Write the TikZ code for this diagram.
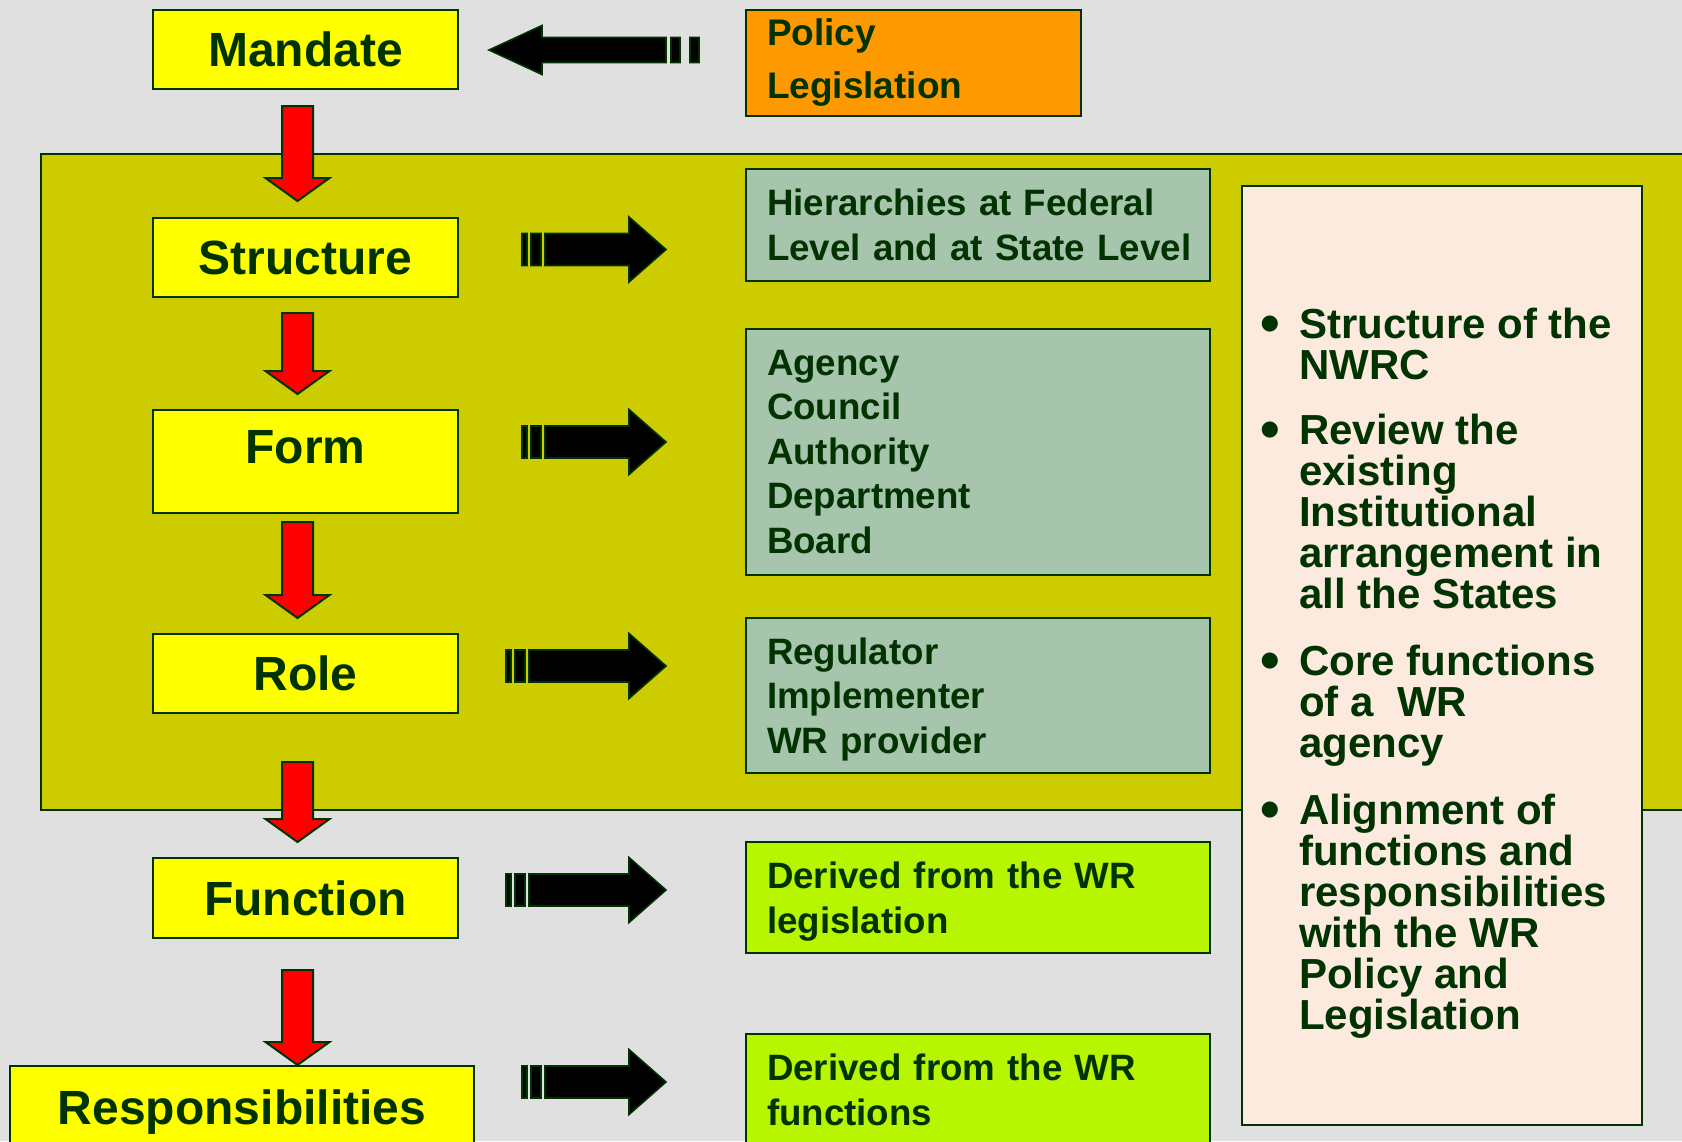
\documentclass[tikz,border=0pt]{standalone}
\usepackage{fontspec}
\setmainfont{Liberation Sans}
\usetikzlibrary{calc}
\definecolor{cBg}{HTML}{E0E0E0}
\definecolor{cOlive}{HTML}{CCCC00}
\definecolor{cYel}{HTML}{FFFF00}
\definecolor{cOrange}{HTML}{FF9900}
\definecolor{cSage}{HTML}{A7C4AD}
\definecolor{cLime}{HTML}{B8F500}
\definecolor{cPink}{HTML}{FCEADF}
\definecolor{cDk}{HTML}{003300}
\definecolor{cRed}{HTML}{FF0000}
\tikzset{
  ol/.style={draw=cDk, line width=2pt},
  leftbox/.style={ol, fill=cYel, minimum width=305pt, inner sep=0pt, outer sep=0pt,
    text=cDk, font=\bfseries\fontsize{48}{52}\selectfont, text height=34.5pt, text depth=0pt},
  lbltext/.style={inner sep=0pt, text=cDk, font=\bfseries\fontsize{48}{52}\selectfont, text height=34.5pt, text depth=0pt},
  rightbox/.style={ol, inner xsep=21pt, inner ysep=0pt, outer sep=0pt, text width=422pt, align=left,
    text=cDk, font=\bfseries\fontsize{36.7}{44.5}\selectfont},
  redarr/.style={draw=cDk, line width=2pt, fill=cRed},
  blkarr/.style={draw=cDk, line width=1.6pt, fill=black}
}
\newcommand\myDownArrow[2]{%
  \filldraw[redarr] let \p1=(#1), \p2=(#2) in
  (\x1-15.5pt,\y1) -- (\x1+15.5pt,\y1) -- (\x1+15.5pt,\y2+23pt) -- (\x1+32pt,\y2+23pt)
  -- (\x1,\y2) -- (\x1-32pt,\y2+23pt) -- (\x1-15.5pt,\y2+23pt) -- cycle;}
\newcommand\myRightArrow[2]{%
  \filldraw[blkarr] let \p1=(#1), \p2=(#2) in
  (\x1,\y1+16pt) rectangle (\x1+5pt,\y1-16pt)
  (\x1+9pt,\y1+16pt) rectangle (\x1+19pt,\y1-16pt)
  (\x1+23pt,\y1+16pt) -- (\x2-37pt,\y1+16pt) -- (\x2-37pt,\y1+32.5pt) -- (\x2,\y2)
  -- (\x2-37pt,\y1-32.5pt) -- (\x2-37pt,\y1-16pt) -- (\x1+23pt,\y1-16pt) -- cycle;}
\newcommand\myLeftArrow[2]{%
  \filldraw[blkarr] let \p1=(#1), \p2=(#2) in
  (\x1,\y1+12.5pt) rectangle (\x1-9pt,\y1-12.5pt)
  (\x1-19pt,\y1+12.5pt) rectangle (\x1-28pt,\y1-12.5pt)
  (\x1-33pt,\y1+12.5pt) -- (\x2+53pt,\y1+12.5pt) -- (\x2+53pt,\y1+24.5pt) -- (\x2,\y2)
  -- (\x2+53pt,\y1-24.5pt) -- (\x2+53pt,\y1-12.5pt) -- (\x1-33pt,\y1-12.5pt) -- cycle;}
\newcommand\blt{\makebox[39pt][l]{\raisebox{-4pt}{\fontsize{56}{41}\selectfont •}}}
\begin{document}
\begin{tikzpicture}[x=1pt,y=-1pt]
\useasboundingbox (0,0) rectangle (1682,1141);
\clip (0,0) rectangle (1682,1141);
\fill[cBg] (0,0) rectangle (1682,1141);
% olive panel
\draw[ol, fill=cOlive] (41,154) rectangle (1720,810);

% left column
\node[leftbox, minimum height=79pt] (mandate) at (305.5,49.5) {Mandate};
\node[leftbox, minimum height=79pt] (structure) at (305.5,257.5) {Structure};
\node[leftbox, minimum height=103pt] (form) at (305.5,461.5) {};
\node[lbltext] (formtext) at (305.5,446) {Form};
\node[leftbox, minimum height=79pt] (role) at (305.5,673.5) {Role};
\node[leftbox, minimum height=80pt] (function) at (305.5,898) {Function};
\node[leftbox, minimum width=464pt, minimum height=82pt] (resp) at (242,1107) {Responsibilities};

% right column
\node[rightbox, fill=cOrange, text width=293pt, minimum height=106pt,
      font=\bfseries\fontsize{37}{53}\selectfont] (policy) at (913.5,63) {Policy\\Legislation};
\node[rightbox, fill=cSage, minimum height=112pt] (hier) at (978,225) {Hierarchies~at~Federal\\Level~and~at~State~Level};
\node[rightbox, fill=cSage, minimum height=246pt] (agency) at (978,452) {Agency\\Council\\Authority\\Department\\Board};
\node[rightbox, fill=cSage, minimum height=155pt] (regul) at (978,695.5) {Regulator\\Implementer\\\smash{WR provider}};
\node[rightbox, fill=cLime, minimum height=111pt] (der1) at (978,897.5) {Derived from the WR\\\smash{legislation}};
\node[rightbox, fill=cLime, minimum height=112pt] (der2) at (978,1090) {Derived from the WR\\functions};

% notes box
\node[ol, fill=cPink, minimum width=400pt, minimum height=939pt, inner sep=0pt] (notes) at (1441.5,655.5) {};
\node[anchor=north west, inner sep=0pt, align=left, text=cDk,
      font=\bfseries\fontsize{42}{41}\selectfont] (notestext) at (1260,308)
 {\blt Structure of the\\ \hspace*{39pt}NWRC\\[24pt]
  \blt Review the\\ \hspace*{39pt}existing\\ \hspace*{39pt}Institutional\\ \hspace*{39pt}arrangement in\\ \hspace*{39pt}all the States\\[26pt]
  \blt Core functions\\ \hspace*{39pt}of a\ \ WR\\ \hspace*{39pt}agency\\[26pt]
  \blt Alignment of\\ \hspace*{39pt}functions and\\ \hspace*{39pt}responsibilities\\ \hspace*{39pt}with the WR\\ \hspace*{39pt}Policy and\\ \hspace*{39pt}Legislation};

% red down arrows
\coordinate (d1a) at (297.5,106);  \coordinate (d1b) at (297.5,201);
\coordinate (d2a) at (297.5,313);  \coordinate (d2b) at (297.5,394);
\coordinate (d3a) at (297.5,522);  \coordinate (d3b) at (297.5,618);
\coordinate (d4a) at (297.5,762);  \coordinate (d4b) at (297.5,842);
\coordinate (d5a) at (297.5,970);  \coordinate (d5b) at (297.5,1065);
\myDownArrow{d1a}{d1b}
\myDownArrow{d2a}{d2b}
\myDownArrow{d3a}{d3b}
\myDownArrow{d4a}{d4b}
\myDownArrow{d5a}{d5b}

% black arrows
\coordinate (la) at (699,50);  \coordinate (lb) at (489,50);
\myLeftArrow{la}{lb}
\coordinate (r1a) at (522,249.5); \coordinate (r1b) at (666,249.5);
\coordinate (r2a) at (522,442);   \coordinate (r2b) at (666,442);
\coordinate (r3a) at (506,666);   \coordinate (r3b) at (666,666);
\coordinate (r4a) at (506,890);   \coordinate (r4b) at (666,890);
\coordinate (r5a) at (522,1082);  \coordinate (r5b) at (666,1082);
\myRightArrow{r1a}{r1b}
\myRightArrow{r2a}{r2b}
\myRightArrow{r3a}{r3b}
\myRightArrow{r4a}{r4b}
\myRightArrow{r5a}{r5b}
\end{tikzpicture}
\end{document}
